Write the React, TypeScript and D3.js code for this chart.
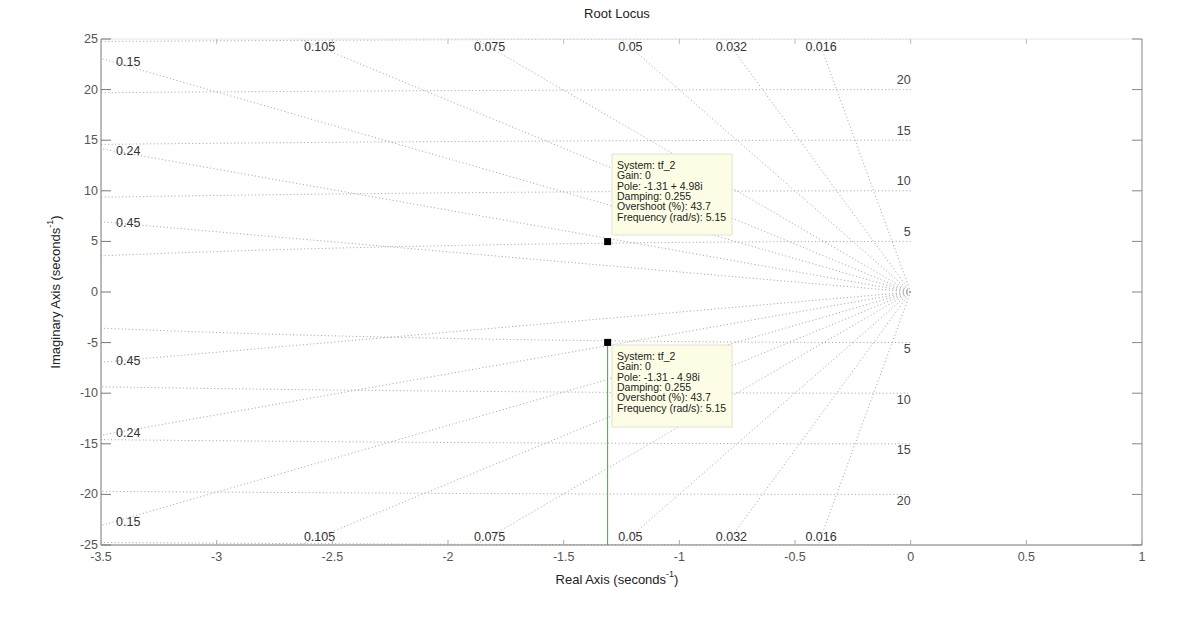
import React from "react";
import * as d3 from "d3";

const xTicks = [-3.5, -3, -2.5, -2, -1.5, -1, -0.5, 0, 0.5, 1];
const yTicks = [25, 20, 15, 10, 5, 0, -5, -10, -15, -20, -25];
const zetaValues = [0.016, 0.032, 0.05, 0.075, 0.105, 0.15, 0.24, 0.45];
const topZetaLabels = ["0.105", "0.075", "0.05", "0.032", "0.016"];
const leftZetaLabels = ["0.15", "0.24", "0.45"];
const wnValues = [5, 10, 15, 20, 25];
const wnLabels = [5, 10, 15, 20];
const poleRe = [-1.31, -1.31];
const poleIm = [4.98, -4.98];
const tipUpper = ["System: tf_2", "Gain: 0", "Pole: -1.31 + 4.98i", "Damping: 0.255", "Overshoot (%): 43.7", "Frequency (rad/s): 5.15"];
const tipLower = ["System: tf_2", "Gain: 0", "Pole: -1.31 - 4.98i", "Damping: 0.255", "Overshoot (%): 43.7", "Frequency (rad/s): 5.15"];

const W = 1200, H = 625;
const L = 101, R = 1142, T = 39, B = 545;
const font = "'Liberation Sans', Arial, Helvetica, sans-serif";

export default function App() {
  const x = d3.scaleLinear().domain([-3.5, 1]).range([L, R]);
  const y = d3.scaleLinear().domain([-25, 25]).range([B, T]);
  const line = d3.line<[number, number]>().x(d => x(d[0])).y(d => y(d[1]));
  const gridStroke = "#a0a0a0";
  const dash = "1 2.5";

  const slope = (z: number) => Math.sqrt(1 - z * z) / z;

  const circles = wnValues.map(wn => {
    const pts: [number, number][] = d3.range(0, 181).map(i => {
      const th = Math.PI / 2 + (i / 180) * Math.PI;
      return [wn * Math.cos(th), wn * Math.sin(th)] as [number, number];
    });
    return line(pts);
  });

  const rays: string[] = [];
  zetaValues.forEach(z => {
    const r = 200;
    const dx = -z * r, dy = Math.sqrt(1 - z * z) * r;
    rays.push(line([[0, 0], [dx, dy]]) as string);
    rays.push(line([[0, 0], [dx, -dy]]) as string);
  });

  const tipBox = (lines: string[], bx: number, by: number, h: number, key: string) => (
    <g key={key}>
      <rect x={bx} y={by} width={120} height={h} fill="#fdfde6" stroke="#e2e2d0" strokeWidth={1} />
      {lines.map((t, i) => (
        <text key={i} x={bx + 5} y={by + 11 + i * 10.3} dominantBaseline="central" fontSize={10.5} fill="#222" fontFamily={font}>{t}</text>
      ))}
    </g>
  );

  const fs = 12.5;

  return (
    <svg width={W} height={H} style={{ position: "absolute", left: 0, top: 0, background: "#fff" }}>
      <defs>
        <clipPath id="plotclip">
          <rect x={L} y={T} width={R - L} height={B - T} />
        </clipPath>
      </defs>
      <rect x={0} y={0} width={W} height={H} fill="#fff" />
      <g clipPath="url(#plotclip)" fill="none" stroke={gridStroke} strokeWidth={1} strokeDasharray={dash}>
        {circles.map((d, i) => <path key={"c" + i} d={d as string} />)}
        {rays.map((d, i) => <path key={"r" + i} d={d} />)}
      </g>

      {/* damping labels top / bottom */}
      {zetaValues.slice(0, 5).reverse().map((z, i) => {
        const xv = -24.2 / slope(z);
        return (
          <g key={"zt" + i}>
            <text x={x(xv)} y={y(24.2)} textAnchor="middle" dominantBaseline="central" fontSize={fs} fill="#333" fontFamily={font}>{topZetaLabels[i]}</text>
            <text x={x(xv)} y={y(-24.2)} textAnchor="middle" dominantBaseline="central" fontSize={fs} fill="#333" fontFamily={font}>{topZetaLabels[i]}</text>
          </g>
        );
      })}
      {zetaValues.slice(5).map((z, i) => {
        const yv = 3.45 * slope(z);
        return (
          <g key={"zl" + i}>
            <text x={116} y={y(yv)} dominantBaseline="central" fontSize={fs} fill="#333" fontFamily={font}>{leftZetaLabels[i]}</text>
            <text x={116} y={y(-yv)} dominantBaseline="central" fontSize={fs} fill="#333" fontFamily={font}>{leftZetaLabels[i]}</text>
          </g>
        );
      })}
      {/* natural frequency labels */}
      {wnLabels.map(wn => (
        <g key={"wn" + wn}>
          <text x={x(0)} y={y(wn) - 9.5} textAnchor="end" dominantBaseline="central" fontSize={fs} fill="#444" fontFamily={font}>{wn}</text>
          <text x={x(0)} y={y(-wn) + 6.5} textAnchor="end" dominantBaseline="central" fontSize={fs} fill="#444" fontFamily={font}>{wn}</text>
        </g>
      ))}

      {/* locus branch */}
      <line x1={x(poleRe[1])} x2={x(poleRe[1])} y1={y(poleIm[1])} y2={B} stroke="#4f9f4f" strokeWidth={1} />

      {/* datatips */}
      {tipBox(tipUpper, 612, 154, 81, "tu")}
      {tipBox(tipLower, 612, 345, 82, "tl")}

      {/* poles */}
      {poleRe.map((re, i) => (
        <rect key={"p" + i} x={x(re) - 3.5} y={y(poleIm[i]) - 3.5} width={7} height={7} fill="#000" />
      ))}

      {/* axes box */}
      <line x1={L} x2={R} y1={T} y2={T} stroke="#e4e4e4" strokeWidth={1} />
      <line x1={L} x2={R} y1={B} y2={B} stroke="#777" strokeWidth={1} />
      <line x1={L} x2={L} y1={T} y2={B} stroke="#777" strokeWidth={1} />
      <line x1={R} x2={R} y1={T} y2={B} stroke="#888" strokeWidth={1} />
      {xTicks.map(t => (
        <g key={"xt" + t}>
          <line x1={x(t)} x2={x(t)} y1={B} y2={B - 5} stroke="#aaa" />
          <line x1={x(t)} x2={x(t)} y1={T} y2={T + 5} stroke="#bbb" />
          <text x={x(t)} y={B + 12} textAnchor="middle" dominantBaseline="central" fontSize={fs} fill="#555" fontFamily={font}>{t}</text>
        </g>
      ))}
      {yTicks.map(t => (
        <g key={"yt" + t}>
          <line x1={L} x2={L + 10} y1={y(t)} y2={y(t)} stroke="#777" />
          <line x1={R} x2={R - 10} y1={y(t)} y2={y(t)} stroke="#888" />
          <text x={L - 3} y={y(t)} textAnchor="end" dominantBaseline="central" fontSize={fs} fill="#555" fontFamily={font}>{t}</text>
        </g>
      ))}

      {/* titles */}
      <text x={617} y={13} textAnchor="middle" dominantBaseline="central" fontSize={13} fill="#222" fontFamily={font}>Root Locus</text>
      <text x={617} y={579} textAnchor="middle" dominantBaseline="central" fontSize={13} fill="#222" fontFamily={font}>
        Real Axis (seconds<tspan dy={-5} fontSize={9}>-1</tspan><tspan dy={5}>)</tspan>
      </text>
      <text transform={`translate(55,${y(0)}) rotate(-90)`} textAnchor="middle" dominantBaseline="central" fontSize={13} fill="#222" fontFamily={font}>
        Imaginary Axis (seconds<tspan dy={-5} fontSize={9}>-1</tspan><tspan dy={5}>)</tspan>
      </text>
    </svg>
  );
}
